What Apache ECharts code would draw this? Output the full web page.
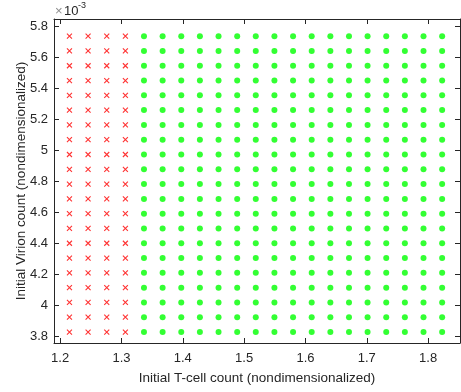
<!DOCTYPE html>
<html>
<head>
<meta charset="utf-8">
<script src="https://cdn.jsdelivr.net/npm/echarts@6/dist/echarts.min.js"></script>
<style>
  html, body { margin: 0; padding: 0; background: #fff; }
  #chart { width: 461px; height: 392px; }
</style>
</head>
<body>
<div id="chart"></div>
<script>
// Grid of initial conditions: T-cell count (x) and virion count (y, in units of 1e-3)
const tcellCounts = [1.2152, 1.2456, 1.2760, 1.3064, 1.3367, 1.3671, 1.3975, 1.4279,
  1.4583, 1.4887, 1.5190, 1.5494, 1.5798, 1.6102, 1.6406, 1.6710, 1.7013, 1.7317,
  1.7621, 1.7925, 1.8229];
const virionCountsE3 = [3.8260, 3.9217, 4.0173, 4.1130, 4.2086, 4.3043, 4.3999, 4.4956,
  4.5912, 4.6869, 4.7825, 4.8782, 4.9738, 5.0695, 5.1651, 5.2608, 5.3564, 5.4521,
  5.5477, 5.6434, 5.7390];
// Outcome per T-cell column: 0 = cross (red), 1 = dot (green)
const columnOutcome = [0, 0, 0, 0, 1, 1, 1, 1, 1, 1, 1, 1, 1, 1, 1, 1, 1, 1, 1, 1, 1];
const xTicks = [1.2, 1.3, 1.4, 1.5, 1.6, 1.7, 1.8];
const yTicks = [3.8, 4, 4.2, 4.4, 4.6, 4.8, 5, 5.2, 5.4, 5.6, 5.8];

const crossPts = [], dotPts = [];
tcellCounts.forEach((x, i) => {
  virionCountsE3.forEach(y => {
    (columnOutcome[i] === 0 ? crossPts : dotPts).push([x, y]);
  });
});

const FONT = 'Liberation Sans, Arial, Helvetica, sans-serif';
const AX = '#262626';
const xMin = 1.19, xMax = 1.852, yMin = 3.755, yMax = 5.85;

function xAxisDef(main) {
  return {
    type: 'value', min: xMin, max: xMax, position: main ? 'bottom' : 'top',
    axisLine: { show: true, onZero: false, lineStyle: { color: AX, width: 1 } },
    axisTick: { show: true, inside: true, length: 5, customValues: xTicks, lineStyle: { color: AX } },
    axisLabel: { show: main, customValues: xTicks, color: AX, fontFamily: FONT, fontSize: 13, margin: 9,
      formatter: v => String(+v.toFixed(1)) },
    splitLine: { show: false },
    name: main ? 'Initial T-cell count (nondimensionalized)' : '',
    nameLocation: 'middle', nameGap: 28, nameMoveOverlap: false,
    nameTextStyle: { color: AX, fontFamily: FONT, fontSize: 13.5 }
  };
}
function yAxisDef(main) {
  return {
    type: 'value', min: yMin, max: yMax, position: main ? 'left' : 'right',
    axisLine: { show: true, onZero: false, lineStyle: { color: AX, width: 1 } },
    axisTick: { show: true, inside: true, length: 5, customValues: yTicks, lineStyle: { color: AX } },
    axisLabel: { show: main, customValues: yTicks, color: AX, fontFamily: FONT, fontSize: 13, margin: 6,
      formatter: v => String(+v.toFixed(1)) },
    splitLine: { show: false },
    name: main ? 'Initial Virion count (nondimensionalized)' : '',
    nameLocation: 'middle', nameGap: 26, nameMoveOverlap: false,
    nameTextStyle: { color: AX, fontFamily: FONT, fontSize: 13.5 }
  };
}

const chart = echarts.init(document.getElementById('chart'), null, { renderer: 'canvas' });
chart.setOption({
  animation: false,
  backgroundColor: '#ffffff',
  grid: { left: 54, right: 1, top: 19, bottom: 49, containLabel: false, outerBoundsMode: 'none' },
  xAxis: [xAxisDef(true), xAxisDef(false)],
  yAxis: [yAxisDef(true), yAxisDef(false)],
  graphic: [
    { type: 'text', left: 55, top: 5,
      style: { text: '×', fontFamily: FONT, fontSize: 13, fill: '#8c8c8c' } },
    { type: 'text', left: 64, top: 5,
      style: { text: '10', fontFamily: FONT, fontSize: 13, fill: AX } },
    { type: 'text', left: 78, top: 1,
      style: { text: '-3', fontFamily: FONT, fontSize: 9, fill: AX } }
  ],
  series: [
    {
      type: 'scatter', data: crossPts, xAxisIndex: 0, yAxisIndex: 0,
      symbol: 'path://M0,0L10,10M10,0L0,10', symbolSize: 5,
      itemStyle: { color: 'rgba(0,0,0,0)', borderColor: '#ff0000', borderWidth: 1.1 }
    },
    {
      type: 'scatter', data: dotPts, xAxisIndex: 0, yAxisIndex: 0,
      symbol: 'circle', symbolSize: 6,
      itemStyle: { color: '#00ff00' }
    }
  ]
});
</script>
</body>
</html>
